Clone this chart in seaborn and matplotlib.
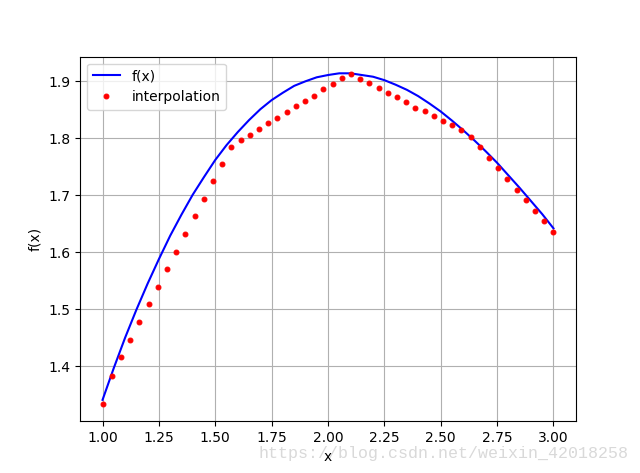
import matplotlib
matplotlib.use("Agg")
import matplotlib.pyplot as plt
import seaborn as sns
import numpy as np

# f(x) curve values
fx_x = [1.00, 1.05, 1.10, 1.15, 1.20, 1.25, 1.30, 1.35, 1.40, 1.45,
        1.50, 1.55, 1.60, 1.65, 1.70, 1.75, 1.80, 1.85, 1.90, 1.95,
        2.00, 2.05, 2.10, 2.15, 2.20, 2.25, 2.30, 2.35, 2.40, 2.45,
        2.50, 2.55, 2.60, 2.65, 2.70, 2.75, 2.80, 2.85, 2.90, 2.95, 3.00]
fx_y = [1.341, 1.397, 1.450, 1.499, 1.545, 1.588, 1.629, 1.666, 1.701, 1.732,
        1.762, 1.788, 1.811, 1.832, 1.851, 1.867, 1.880, 1.892, 1.900, 1.907,
        1.911, 1.914, 1.914, 1.911, 1.908, 1.902, 1.894, 1.885, 1.874, 1.861,
        1.847, 1.831, 1.814, 1.796, 1.777, 1.757, 1.735, 1.713, 1.690, 1.667, 1.642]

# interpolation points (50 points from 1 to 3)
ip_x = [1.0 + 2.0 * i / 49 for i in range(50)]
ip_y = [1.333, 1.383, 1.416, 1.446, 1.477, 1.509, 1.539, 1.570, 1.600, 1.632,
        1.663, 1.693, 1.725, 1.754, 1.785, 1.797, 1.805, 1.816, 1.826, 1.835,
        1.846, 1.856, 1.865, 1.875, 1.886, 1.895, 1.905, 1.912, 1.904, 1.897,
        1.888, 1.879, 1.872, 1.863, 1.854, 1.847, 1.839, 1.830, 1.823, 1.814,
        1.802, 1.784, 1.765, 1.747, 1.728, 1.709, 1.691, 1.672, 1.654, 1.635]

fig = plt.figure(figsize=(6.4, 4.73), dpi=100)
ax = fig.add_subplot(111)

sns.lineplot(x=fx_x, y=fx_y, ax=ax, color="b", linewidth=1.5, label="f(x)")
sns.lineplot(x=ip_x, y=ip_y, ax=ax, color="r", linestyle="", marker=".",
             markersize=7, markeredgecolor="r", label="interpolation")

ax.set_xlabel("x")
ax.set_ylabel("f(x)")
ax.grid(True, color="#b0b0b0", linewidth=0.8)
ax.legend(loc="upper left")
ax.set_xticks([1.00, 1.25, 1.50, 1.75, 2.00, 2.25, 2.50, 2.75, 3.00])
ax.set_xticklabels(["1.00", "1.25", "1.50", "1.75", "2.00", "2.25", "2.50", "2.75", "3.00"])

fig.text(258 / 640, 1 - 458 / 473, "https://blog.csdn.net/weixin_42018258",
         family="Liberation Mono", fontsize=12, color="#d9d9d9", va="baseline", ha="left")

fig.savefig("out.png", dpi=100)
